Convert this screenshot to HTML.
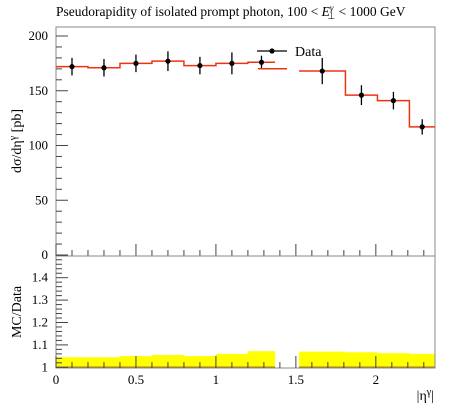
<!DOCTYPE html>
<html><head><meta charset="utf-8"><style>
body{margin:0;background:#fff;}
svg{display:block;font-family:"Liberation Serif",serif;}
</style></head><body>
<svg id="chart" width="450" height="407" viewBox="0 0 450 407" xmlns="http://www.w3.org/2000/svg">
<text x="56" y="16" font-size="13.5" fill="#000">Pseudorapidity of isolated prompt photon, 100 &lt; <tspan font-style="italic">E</tspan><tspan font-size="9" dy="-5" font-style="italic">γ</tspan><tspan font-size="9" dy="8" dx="-6">⊥</tspan><tspan dy="-3"> &lt; 1000 GeV</tspan></text>
<g id="main"></g>
<g id="ratio"></g>
<text transform="translate(21,141) rotate(-90)" text-anchor="middle" font-size="14">dσ/dη<tspan font-size="10" dy="-5">γ</tspan><tspan dy="5"> [pb]</tspan></text>
<text transform="translate(21,312) rotate(-90)" text-anchor="middle" font-size="14">MC/Data</text>
<text x="434" y="400" text-anchor="end" font-size="14">|η<tspan font-size="10" dy="-5">γ</tspan><tspan dy="5">|</tspan></text>
</svg>
<script>
const binLo = [0,0.2,0.4,0.6,0.8,1.0,1.2,1.52,1.81,2.01,2.21];
const binHi = [0.2,0.4,0.6,0.8,1.0,1.2,1.37,1.81,2.01,2.21,2.37];
const dataVals = [172,171,175,177,173,175,176,168,146,141,117];
const dataErr = [8,8,8,9,8,10,6,12,9,8,7];
const mcVals = [172,171,175,177,173,175,176,168,146,141,117];
const ratioBand = [1.045,1.045,1.05,1.055,1.05,1.06,1.072,1.07,1.067,1.063,1.06];
const yTicks = [0,50,100,150,200];
const rTicks = [1,1.1,1.2,1.3,1.4];
const xTicks = [0,0.5,1,1.5,2];
const xTickLabels = ["0","0.5","1","1.5","2"];

const NS="http://www.w3.org/2000/svg";
const L=56,R=435,T=27,B=256,RT=256,RB=368;
const X=v=>L+v*(R-L)/2.37;
const Y=v=>255-v*1.095;
const RY=v=>367.3-(v-1)*224;
function mk(tag,attrs,parent,text){const e=document.createElementNS(NS,tag);for(const k in attrs)e.setAttribute(k,attrs[k]);if(text!==undefined)e.textContent=text;parent.appendChild(e);return e;}
const main=document.getElementById('main'),ratio=document.getElementById('ratio');

for(let i=0;i<binLo.length;i++){
  const r=mk('rect',{x:X(binLo[i]),y:RY(ratioBand[i]),width:X(binHi[i])-X(binLo[i]),height:RY(1)-RY(ratioBand[i]),fill:'#ffff00'},ratio);
  
  
}
for(let i=0;i<binLo.length;i++){
  const l=mk('line',{x1:X(binLo[i]),x2:X(binHi[i]),y1:RY(1),y2:RY(1),stroke:'#b08000','stroke-width':1.5},ratio);
  
  
}
const f1=mk('rect',{x:L,y:T,width:R-L,height:B-T,fill:'none',stroke:'#888','stroke-width':1},main);


const f2=mk('rect',{x:L,y:RT,width:R-L,height:RB-RT,fill:'none',stroke:'#888','stroke-width':1},ratio);



for(let k=0;k<=23;k++){
  const v=k/10,maj=(k%5===0),px=X(v);
  mk('line',{x1:px,x2:px,y1:B,y2:B-(maj?12:6),stroke:'#444'},main);
  mk('line',{x1:px,x2:px,y1:RB,y2:RB-(maj?12:6),stroke:'#444'},ratio);
}
xTicks.forEach((v,i)=>{
  const t=mk('text',{x:X(v),y:384,'text-anchor':'middle','font-size':13},ratio,xTickLabels[i]);
  
  
});
for(let v=0;v<=200;v+=10){const maj=v%50===0;mk('line',{x1:L,x2:L+(maj?12:6),y1:Y(v),y2:Y(v),stroke:'#444'},main);}
yTicks.forEach(v=>{
  const t=mk('text',{x:L-8,y:Y(v)+4,'text-anchor':'end','font-size':13},main,String(v));
  
  
});
for(let v=1;v<=1.5001;v+=0.02){const maj=Math.abs(v*10-Math.round(v*10))<1e-6;mk('line',{x1:L,x2:L+(maj?12:6),y1:RY(v),y2:RY(v),stroke:'#444'},ratio);}
rTicks.forEach(v=>{
  const t=mk('text',{x:L-8,y:RY(v)+4,'text-anchor':'end','font-size':13},ratio,v===1?"1":v.toFixed(1));
  
  
});

let d='';
for(let i=0;i<binLo.length;i++){
  const contig=i>0&&Math.abs(binLo[i]-binHi[i-1])<1e-6;
  d+=(contig?'L':'M')+X(binLo[i])+' '+Y(mcVals[i])+' L'+X(binHi[i])+' '+Y(mcVals[i])+' ';
}
const mc=mk('path',{d:d,fill:'none',stroke:'#ee3311','stroke-width':1.5},main);



for(let i=0;i<dataVals.length;i++){
  const cx=(X(binLo[i])+X(binHi[i]))/2,cy=Y(dataVals[i]);
  const g=mk('g',{},main);
  
  
  mk('line',{x1:cx,x2:cx,y1:Y(dataVals[i]+dataErr[i]),y2:Y(dataVals[i]-dataErr[i]),stroke:'#000','stroke-width':1.3},g);
  mk('circle',{cx:cx,cy:cy,r:2.6,fill:'#000'},g);
}
const lg=mk('g',{},main);


mk('line',{x1:257,x2:287,y1:51,y2:51,stroke:'#000','stroke-width':1.3},lg);
mk('circle',{cx:272,cy:51,r:2.6,fill:'#000'},lg);
mk('text',{x:295,y:56,'font-size':14},lg,'Data');
const lm=mk('line',{x1:258,x2:287,y1:68.7,y2:68.7,stroke:'#ee3311','stroke-width':1.5},main);


</script>
</body></html>
